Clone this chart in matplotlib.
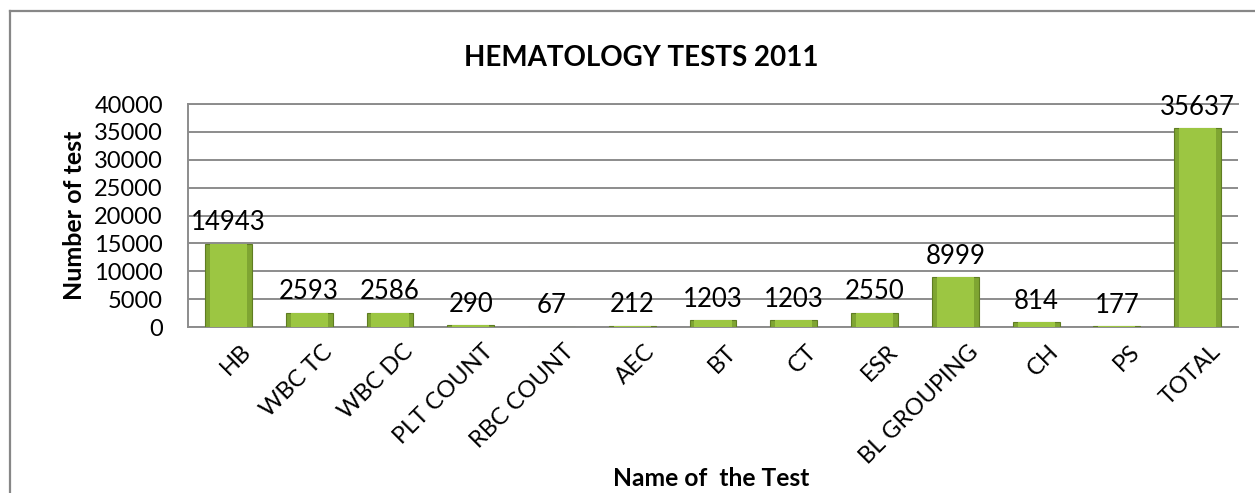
import numpy as np
import matplotlib
matplotlib.use("Agg")
import matplotlib.pyplot as plt
import matplotlib.transforms as mtransforms
from matplotlib.lines import Line2D

# data
tests = ["HB", "WBC TC", "WBC DC", "PLT COUNT", "RBC COUNT", "AEC", "BT",
         "CT", "ESR", "BL GROUPING", "CH", "PS", "TOTAL"]
counts = [14943, 2593, 2586, 290, 67, 212, 1203, 1203, 2550, 8999, 814, 177, 35637]
yticks = [0, 5000, 10000, 15000, 20000, 25000, 30000, 35000, 40000]

plt.rcParams['font.family'] = ['Lato', 'DejaVu Sans']

fig = plt.figure(figsize=(12.55, 4.93), dpi=100)
ax = fig.add_axes([0.1498, 0.3367, 0.8367, 0.4523])

x = np.arange(len(tests))
# darker outer bar with a lighter inner bar for a bevelled look
ax.bar(x, counts, width=0.58, color='#7fa532', edgecolor='#5f7d22', linewidth=0.8, zorder=3)
ax.bar(x, counts, width=0.46, color='#9cc642', linewidth=0, zorder=4)

for xi, v in zip(x, counts):
    ax.annotate(str(v), (xi, v), xytext=(0, 6), textcoords='offset points',
                ha='center', va='bottom', fontsize=18.5, zorder=5)

ax.set_xlim(-0.5, len(tests) - 0.5)
ax.set_ylim(0, 40000)
ax.set_yticks(yticks)
ax.set_yticklabels([str(t) for t in yticks], fontsize=17)
ax.set_xticks(x)
ax.set_xticklabels(tests, fontsize=17, rotation=45, ha='right', rotation_mode='anchor')
ax.tick_params(length=0)
ax.tick_params(axis='y', pad=18)
ax.tick_params(axis='x', pad=10)
# shift the slanted labels a little to the right, like Excel does
shift = mtransforms.ScaledTranslation(12 / 100, 0, fig.dpi_scale_trans)
for lbl in ax.get_xticklabels():
    lbl.set_transform(lbl.get_transform() + shift)
ax.yaxis.grid(True, color='#8c8c8c', linewidth=1.4, zorder=0)
ax.set_axisbelow(True)
for s in ['left', 'bottom', 'top']:
    ax.spines[s].set_color('#8c8c8c')
    ax.spines[s].set_linewidth(1.4)
ax.spines['right'].set_visible(False)

ax.set_ylabel('Number of test', fontsize=18, fontweight='bold', labelpad=6)
fig.text(0.567, 0.03, 'Name of  the Test', ha='center', va='center', fontsize=17.7, fontweight='bold')
fig.text(0.511, 0.882, 'HEMATOLOGY TESTS 2011', ha='center', va='center', fontsize=20, fontweight='bold')

# outer chart border (left and top edges visible)
fig.add_artist(Line2D([0.008, 0.008], [0.0, 0.978], transform=fig.transFigure, color='#878787', linewidth=1.6))
fig.add_artist(Line2D([0.008, 1.0], [0.978, 0.978], transform=fig.transFigure, color='#878787', linewidth=1.6))

fig.savefig('out.png', dpi=100)
